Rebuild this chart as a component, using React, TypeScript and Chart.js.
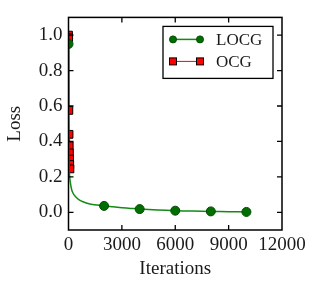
import React, { useEffect, useRef } from "react";
import { Chart, registerables } from "chart.js";

Chart.register(...registerables);

// LOCG loss curve (iterations, loss)
const locgX = [0, 10, 20, 35, 50, 75, 100, 150, 200, 300, 400, 500, 650, 800, 1000, 1200, 1600, 2000, 2500, 3000, 3500, 4000, 5000, 6000, 7000, 8000, 9000, 10000];
const locgY = [0.95, 0.6, 0.4, 0.28, 0.22, 0.19, 0.17, 0.14, 0.12, 0.1, 0.088, 0.078, 0.067, 0.06, 0.052, 0.047, 0.041, 0.036, 0.031, 0.026, 0.022, 0.018, 0.013, 0.009, 0.007, 0.005, 0.0035, 0.002];
const locgMarkers = [0, 2000, 4000, 6000, 8000, 10000];

// OCG loss (all within the first few iterations)
const ocgX = [0, 10, 20, 30, 40, 50, 60, 70, 80];
const ocgY = [1.0, 0.985, 0.575, 0.44, 0.375, 0.335, 0.3, 0.27, 0.245];

const xTicks = [0, 3000, 6000, 9000, 12000];
const yTicks = [0, 0.2, 0.4, 0.6, 0.8, 1.0];

const seriesNames = ["LOCG", "OCG"];
const xTitle = "Iterations";
const yTitle = "Loss";

const FONT = '"Liberation Serif", "Times New Roman", serif';
const TEXT = "#1a1a1a";
const GREEN_LINE = "#138a13";
const GREEN_PT = "#006e00";
const RED = "#ff0000";

const framePlugin = {
  id: "frameTicks",
  afterDatasetsDraw(chart: any) {
    const { ctx, chartArea } = chart;
    const { left, right, top, bottom } = chartArea;
    const xs = chart.scales.x;
    const ys = chart.scales.y;
    ctx.save();
    ctx.strokeStyle = "#000";
    ctx.lineWidth = 1.5;
    ctx.strokeRect(left, top, right - left, bottom - top);
    ctx.lineWidth = 1.3;
    ctx.beginPath();
    const tl = 5;
    xs.ticks.forEach((t: any) => {
      const px = xs.getPixelForValue(t.value);
      if (px <= left + 1 || px >= right - 1) return;
      ctx.moveTo(px, bottom);
      ctx.lineTo(px, bottom - tl);
      ctx.moveTo(px, top);
      ctx.lineTo(px, top + tl);
    });
    ys.ticks.forEach((t: any) => {
      const py = ys.getPixelForValue(t.value);
      if (py <= top + 1 || py >= bottom - 1) return;
      ctx.moveTo(left, py);
      ctx.lineTo(left + tl, py);
      ctx.moveTo(right, py);
      ctx.lineTo(right - tl, py);
    });
    ctx.stroke();

    // legend box
    const bw = 110;
    const bh = 52;
    const bx = right - 9 - bw;
    const by = top + 9;
    ctx.fillStyle = "#fff";
    ctx.fillRect(bx, by, bw, bh);
    ctx.lineWidth = 1.3;
    ctx.strokeStyle = "#000";
    ctx.strokeRect(bx, by, bw, bh);

    const rows = [by + 13, by + 35];
    const lx1 = bx + 10;
    const lx2 = bx + 37;
    // LOCG
    ctx.strokeStyle = GREEN_LINE;
    ctx.lineWidth = 1.5;
    ctx.beginPath();
    ctx.moveTo(lx1, rows[0]);
    ctx.lineTo(lx2, rows[0]);
    ctx.stroke();
    ctx.fillStyle = GREEN_PT;
    ctx.strokeStyle = "#004d00";
    ctx.lineWidth = 1;
    [lx1, lx2].forEach((x) => {
      ctx.beginPath();
      ctx.arc(x, rows[0], 3.5, 0, Math.PI * 2);
      ctx.fill();
      ctx.stroke();
    });
    // OCG
    ctx.strokeStyle = RED;
    ctx.lineWidth = 1;
    ctx.beginPath();
    ctx.moveTo(lx1, rows[1]);
    ctx.lineTo(lx2, rows[1]);
    ctx.stroke();
    ctx.fillStyle = RED;
    ctx.strokeStyle = "#000";
    [lx1, lx2].forEach((x) => {
      ctx.fillRect(x - 3.5, rows[1] - 3.5, 7, 7);
      ctx.strokeRect(x - 3.5, rows[1] - 3.5, 7, 7);
    });

    ctx.fillStyle = TEXT;
    ctx.font = `17px ${FONT}`;
    ctx.textBaseline = "middle";
    ctx.textAlign = "left";
    ctx.fillText(seriesNames[0], bx + 53, rows[0] + 1);
    ctx.fillText(seriesNames[1], bx + 53, rows[1] + 1);
    ctx.restore();
  },
};

export default function App() {
  const ref = useRef<HTMLCanvasElement | null>(null);
  useEffect(() => {
    if (!ref.current) return;
    const chart = new Chart(ref.current, {
      type: "line",
      data: {
        datasets: [
          {
            label: seriesNames[0],
            data: locgX.map((x, i) => ({ x, y: locgY[i] })),
            borderColor: GREEN_LINE,
            borderWidth: 1.5,
            backgroundColor: GREEN_PT,
            pointBorderColor: "#004d00",
            pointBorderWidth: 1,
            pointRadius: (c: any) => (locgMarkers.includes(c.raw?.x) ? 4.5 : 0),
            pointHoverRadius: 0,
            tension: 0.3,
            clip: 0,
          },
          {
            label: seriesNames[1],
            data: ocgX.map((x, i) => ({ x, y: ocgY[i] })),
            borderColor: RED,
            borderWidth: 1,
            backgroundColor: RED,
            pointBorderColor: "#000",
            pointBorderWidth: 1,
            pointStyle: "rect",
            pointRadius: 5.5,
            clip: 0,
          },
        ],
      },
      options: {
        animation: false,
        responsive: true,
        maintainAspectRatio: false,
        layout: { padding: { left: 0, right: 35, top: 10, bottom: 0 } },
        plugins: { legend: { display: false }, tooltip: { enabled: false } },
        scales: {
          x: {
            type: "linear",
            min: 0,
            max: 12000,
            afterBuildTicks: (s: any) => {
              s.ticks = xTicks.map((value) => ({ value }));
            },
            ticks: {
              padding: 4,
              maxRotation: 0,
              autoSkip: false,
              color: TEXT,
              font: { family: FONT, size: 19 },
              callback: (v: any) => String(v),
            },
            grid: { display: false, drawTicks: false },
            border: { display: false },
            title: {
              display: true,
              text: xTitle,
              color: TEXT,
              font: { family: FONT, size: 19 },
              padding: { top: 0, bottom: 11 },
            },
            afterFit: (s: any) => {
              s.height = 61;
            },
          },
          y: {
            type: "linear",
            min: -0.1,
            max: 1.1,
            afterBuildTicks: (s: any) => {
              s.ticks = yTicks.map((value) => ({ value }));
            },
            ticks: {
              padding: 6,
              autoSkip: false,
              color: TEXT,
              font: { family: FONT, size: 19 },
              callback: (v: any) => Number(v).toFixed(1),
            },
            grid: { display: false, drawTicks: false },
            border: { display: false },
            title: {
              display: true,
              text: yTitle,
              color: TEXT,
              font: { family: FONT, size: 19 },
              padding: { top: 4, bottom: 0 },
            },
            afterFit: (s: any) => {
              s.width = 68.5;
            },
          },
        },
      },
      plugins: [framePlugin],
    });
    return () => chart.destroy();
  }, []);
  return (
    <div style={{ position: "fixed", left: 0, top: 0, width: 317, height: 291, background: "#fff" }}>
      <canvas ref={ref} />
    </div>
  );
}
